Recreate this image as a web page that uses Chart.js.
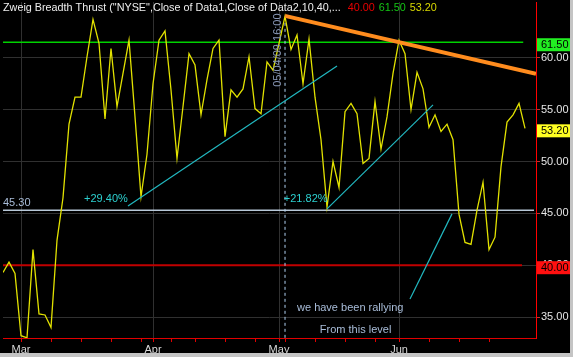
<!DOCTYPE html>
<html>
<head>
<meta charset="utf-8">
<script src="https://cdn.jsdelivr.net/npm/chart.js@4.4.1/dist/chart.umd.min.js"></script>
<style>
    html, body { margin: 0; padding: 0; background: #c4c4c4; }
    #marco { position: absolute; left: 0; top: 0; width: 570px; height: 353px; background: #000; }
</style>
</head>
<body>
<div id="marco"><canvas id="zbt" width="570" height="353"></canvas></div>
<script>
// --- DATOS: un valor por sesión, 25-feb-2009 a 30-jun-2009 (índice = sesión) ---
const zbtValues = [
    39.3, 40.3, 39.2, 33.2, 33.0, 41.5, 35.3, 35.2, 34.0, 42.4,
    46.5, 53.6, 56.2, 56.2, 60.1, 63.7, 61.4, 54.1, 60.9, 55.3,
    58.5, 61.7, 54.3, 46.6, 50.7, 57.5, 61.7, 62.6, 56.9, 50.3,
    55.3, 60.4, 59.3, 54.5, 57.9, 60.9, 61.7, 52.4, 56.9, 56.2,
    57.0, 60.1, 55.1, 54.6, 59.6, 58.8, 61.4, 64.0, 60.8, 62.2,
    57.5, 61.8, 56.2, 52.1, 45.6, 50.0, 47.5, 54.8, 55.6, 54.6,
    49.8, 50.3, 55.8, 51.2, 54.3, 58.5, 61.7, 60.4, 55.0, 58.6,
    57.0, 53.3, 54.5, 52.9, 53.6, 52.1, 44.9, 42.2, 42.0, 45.3,
    48.0, 41.5, 42.7, 49.5, 53.8, 54.5, 55.6, 53.2
];

// sesiones donde empieza cada mes / cada semana
const monthTicks = [3, 25, 46, 66];
const monthLabels = ['Mar', 'Apr', 'May', 'Jun'];
const weekTicks = [3, 8, 13, 18, 23, 28, 32, 37, 42, 47, 52, 57, 62, 71, 76, 81];
const yTicks = [35, 40, 45, 50, 55, 60];

// niveles horizontales del indicador
const nivelAlto = 61.5;
const nivelBajo = 40.0;
const nivelRef = 45.3;
const ultimoValor = 53.2;

// líneas de tendencia dibujadas a mano (sesión, valor)
const tendenciaBajista = [{ x: 47, y: 64.04 }, { x: 88.83, y: 58.45 }];
const tendencia1 = [{ x: 20.83, y: 45.72 }, { x: 55.67, y: 59.22 }];
const tendencia2 = [{ x: 54, y: 45.43 }, { x: 71.67, y: 55.46 }];
const tendencia3 = [{ x: 67.83, y: 36.75 }, { x: 74.83, y: 44.95 }];
const sesionMarcada = 47; // 05/04/09

const FUENTE = '"Liberation Sans", Arial, sans-serif';

// --- TEXTOS Y ETIQUETAS SOBRE EL GRÁFICO ---
const anotaciones = {
    id: 'anotaciones',
    afterDatasetsDraw(chart) {
        const { ctx, chartArea } = chart;
        const x = chart.scales.x, y = chart.scales.y;
        ctx.save();
        ctx.font = '11px ' + FUENTE;
        ctx.textBaseline = 'middle';

        ctx.fillStyle = '#a9bdd9';
        ctx.textAlign = 'left';
        ctx.fillText(nivelRef.toFixed(2), chartArea.left, y.getPixelForValue(nivelRef) - 7);

        ctx.fillStyle = '#2cd0d0';
        ctx.textAlign = 'right';
        ctx.fillText('+29.40%', x.getPixelForValue(20.8), y.getPixelForValue(46.4));
        ctx.textAlign = 'left';
        ctx.fillText('+21.82%', x.getPixelForValue(46.8), y.getPixelForValue(46.4));

        ctx.fillStyle = '#a9bdd9';
        ctx.fillText('we have been rallying', x.getPixelForValue(49), y.getPixelForValue(35.9));
        ctx.fillText('From this level', x.getPixelForValue(52.8), y.getPixelForValue(33.76));

        // fecha vertical junto a la línea punteada
        ctx.save();
        ctx.translate(x.getPixelForValue(45.85), y.getPixelForValue(57.2));
        ctx.rotate(-Math.PI / 2);
        ctx.fillStyle = '#8796b4';
        ctx.fillText('05/04/09 16:00', 0, 0);
        ctx.restore();

        // cajas de valores en el eje derecho
        const cajas = [
            { v: nivelAlto, fondo: '#22ee22' },
            { v: ultimoValor, fondo: '#ffff22' },
            { v: nivelBajo, fondo: '#ff1010' }
        ];
        cajas.forEach(c => {
            const py = y.getPixelForValue(c.v) + 2.5;
            ctx.fillStyle = c.fondo;
            ctx.fillRect(chartArea.right + 1, py - 6.5, 33, 13);
            ctx.fillStyle = '#000';
            ctx.fillText(c.v.toFixed(2), chartArea.right + 5, py);
        });

        // título con los valores actuales
        const titulo = 'Zweig Breadth Thrust ("NYSE",Close of Data1,Close of Data2,10,40,...';
        ctx.font = '10.8px ' + FUENTE;
        ctx.fillStyle = '#eeeeee';
        ctx.fillText(titulo, 3, 8);
        let px = 3 + ctx.measureText(titulo).width + 7;
        [[nivelBajo, '#e80000'], [nivelAlto, '#14c414'], [ultimoValor, '#d8d800']].forEach(([v, col]) => {
            const t = v.toFixed(2);
            ctx.fillStyle = col;
            ctx.fillText(t, px, 8);
            px += ctx.measureText(t).width + 4;
        });
        ctx.restore();
    }
};

const tramo = (a, b, v) => [{ x: a, y: v }, { x: b, y: v }];

const ctx = document.getElementById('zbt').getContext('2d');
const miGrafico = new Chart(ctx, {
    type: 'line',
    data: {
        datasets: [
            { data: zbtValues.map((v, i) => ({ x: i, y: v })), borderColor: '#e2e200', borderWidth: 1.3, order: 3 },
            { data: tramo(0, 86.7, nivelAlto), borderColor: '#00d200', borderWidth: 1.5, order: 5 },
            { data: tramo(0, 86.5, nivelBajo), borderColor: '#c00000', borderWidth: 2, order: 5 },
            { data: tramo(-0.5, 88.5, nivelRef), borderColor: '#b8c8d8', borderWidth: 1.5, order: 5 },
            { data: [{ x: sesionMarcada, y: 63.95 }, { x: sesionMarcada, y: 32.9 }], borderColor: '#b0d0f0', borderWidth: 1, borderDash: [3, 3], order: 4 },
            { data: tendenciaBajista, borderColor: '#ff8c1e', borderWidth: 4, order: 1 },
            { data: tendencia1, borderColor: '#22b8c0', borderWidth: 1.2, order: 2 },
            { data: tendencia2, borderColor: '#22b8c0', borderWidth: 1.2, order: 2 },
            { data: tendencia3, borderColor: '#22b8c0', borderWidth: 1.2, order: 2 }
        ]
    },
    options: {
        responsive: false,
        animation: false,
        layout: { padding: { left: 3, top: 2, right: 0, bottom: 0 } },
        elements: { point: { radius: 0 }, line: { tension: 0, borderCapStyle: 'butt' } },
        plugins: { legend: { display: false }, tooltip: { enabled: false } },
        scales: {
            x: {
                type: 'linear',
                min: 0,
                max: 88.83,
                afterBuildTicks: s => { s.ticks = weekTicks.concat(monthTicks.filter(m => !weekTicks.includes(m))).sort((a, b) => a - b).map(v => ({ value: v })); },
                afterFit: s => { s.height = 15; s.paddingLeft = 0; s.paddingRight = 0; },
                grid: {
                    color: c => (c.tick && monthTicks.includes(c.tick.value)) ? '#303030' : 'rgba(0,0,0,0)',
                    tickColor: '#e00000',
                    tickLength: 4
                },
                border: { color: '#e00000' },
                ticks: {
                    color: '#d8d8d8',
                    font: { family: FUENTE, size: 11 },
                    padding: 1,
                    maxRotation: 0,
                    autoSkip: false,
                    callback: v => { const k = monthTicks.indexOf(v); return k >= 0 ? monthLabels[k] : ''; }
                }
            },
            y: {
                position: 'right',
                min: 32.98,
                max: 65.38,
                afterBuildTicks: s => { s.ticks = yTicks.map(v => ({ value: v })); },
                afterFit: s => { s.width = 34; s.paddingTop = 0; s.paddingBottom = 0; },
                grid: { color: '#303030', tickColor: '#c03030', tickLength: 4 },
                border: { color: '#ff0000' },
                ticks: {
                    color: '#e6e6e6',
                    font: { family: FUENTE, size: 11 },
                    padding: 1,
                    callback: v => v.toFixed(2)
                }
            }
        }
    },
    plugins: [anotaciones]
});
</script>
</body>
</html>
